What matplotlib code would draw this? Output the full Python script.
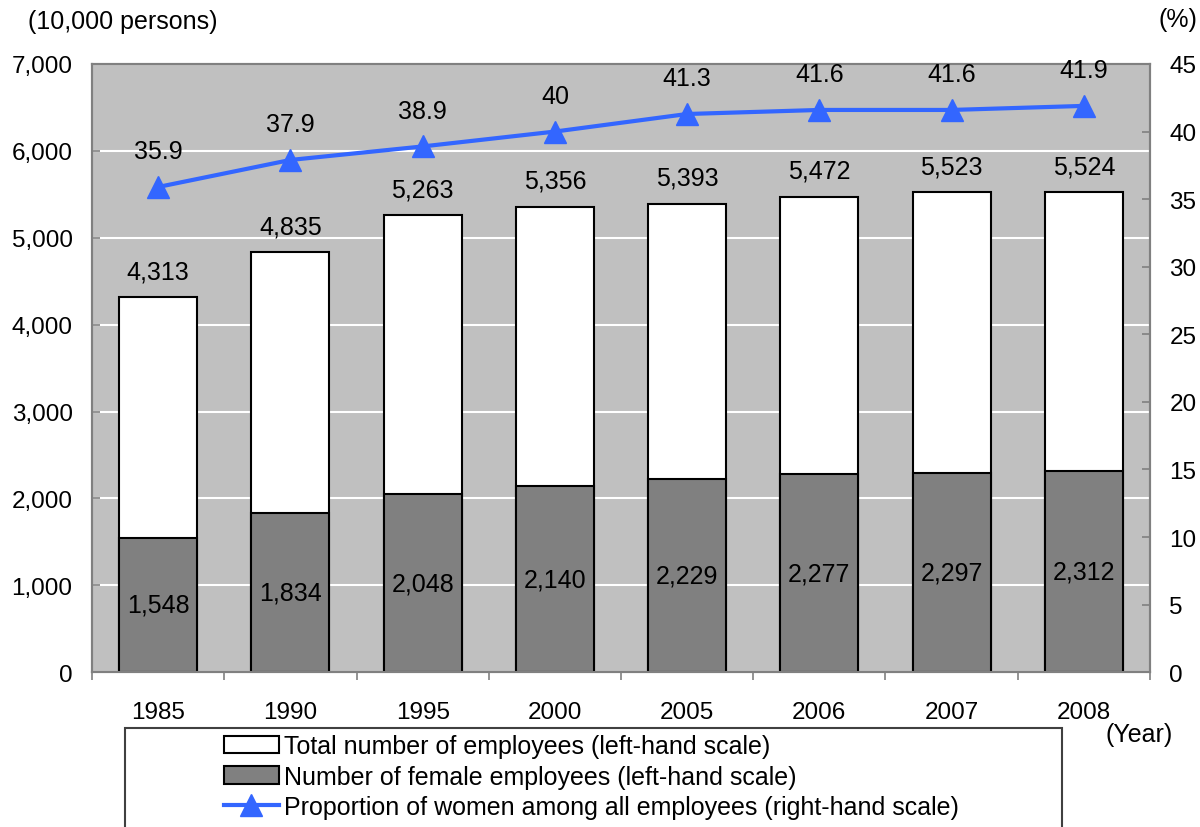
import matplotlib.pyplot as plt
from matplotlib.patches import Rectangle
import numpy as np

plt.rcParams['font.family'] = ['Liberation Sans', 'DejaVu Sans']

anos = ['1985', '1990', '1995', '2000', '2005', '2006', '2007', '2008']
total = [4313, 4835, 5263, 5356, 5393, 5472, 5523, 5524]
mulheres = [1548, 1834, 2048, 2140, 2229, 2277, 2297, 2312]
proporcao = [35.9, 37.9, 38.9, 40, 41.3, 41.6, 41.6, 41.9]

tam_font = 18
tam_tick = 17.5
cor_fundo = '#c0c0c0'
cor_linha = '#3366ff'
cor_eixo = '#808080'

fig = plt.figure(figsize=(12, 8.28), dpi=100)
ax = fig.add_axes([0.0767, 0.187, 0.8816, 0.7345])
ax.set_facecolor(cor_fundo)

x = np.arange(len(anos))
larg = 0.59

# grade horizontal branca
ax.set_ylim(0, 7000)
ax.set_yticks(range(0, 7001, 1000))
ax.yaxis.grid(True, color='white', linewidth=1.5)
ax.set_axisbelow(True)

b_total = ax.bar(x, total, width=larg, color='white', edgecolor='black', linewidth=1.5,
                 label='Total number of employees (left-hand scale)', zorder=2)
b_mulh = ax.bar(x, mulheres, width=larg, color='#808080', edgecolor='black', linewidth=1.5,
                label='Number of female employees (left-hand scale)', zorder=3)

for xi, v in zip(x, total):
    ax.annotate(f'{v:,}', (xi, v), xytext=(0, 10), textcoords='offset points',
                ha='center', va='bottom', fontsize=tam_font)
for xi, v in zip(x, mulheres):
    ax.text(xi, v / 2, f'{v:,}', ha='center', va='center', fontsize=tam_font, zorder=4)

ax.set_xlim(-0.5, len(anos) - 0.5)
ax.set_xticks(x)
ax.set_xticklabels(anos)
ax.set_xticks(np.arange(-0.5, len(anos), 1), minor=True)
ax.tick_params(axis='x', which='major', length=0, pad=21, labelsize=tam_tick)
ax.tick_params(axis='x', which='minor', length=6, width=1.2, color=cor_eixo, direction='out')
ax.yaxis.set_major_formatter(plt.FuncFormatter(lambda v, p: f'{int(v):,}'))
ax.tick_params(axis='y', direction='in', length=6, width=1.2, color=cor_eixo,
               pad=14, labelsize=tam_tick)
for s in ax.spines.values():
    s.set_color(cor_eixo)
    s.set_linewidth(1.5)

# eixo da direita: proporção (%)
ax2 = ax.twinx()
ax2.set_ylim(0, 45)
ax2.set_yticks(range(0, 46, 5))
ax2.tick_params(axis='y', direction='in', length=6, width=1.2, color=cor_eixo,
                pad=14, labelsize=tam_tick)
for s in ax2.spines.values():
    s.set_color(cor_eixo)
    s.set_linewidth(1.5)
l_prop, = ax2.plot(x, proporcao, color=cor_linha, linewidth=3, marker='^', markersize=16,
                   label='Proportion of women among all employees (right-hand scale)', zorder=5)
for xi, v in zip(x, proporcao):
    ax2.annotate(f'{v:g}', (xi, v), xytext=(0, 17), textcoords='offset points',
                 ha='center', va='bottom', fontsize=tam_font)

fig.text(0.023, 0.973, '(10,000 persons)', fontsize=tam_font, ha='left', va='center')
fig.text(0.9975, 0.976, '(%)', fontsize=tam_font, ha='right', va='center')
fig.text(0.9775, 0.112, '(Year)', fontsize=tam_font, ha='right', va='center')

# caixa da legenda (cortada pela borda inferior)
fig.patches.append(Rectangle((0.1042, -0.05), 0.7808, 0.1696, transform=fig.transFigure,
                             facecolor='white', edgecolor='#404040', linewidth=1.5))
leg = fig.legend(handles=[b_total, b_mulh, l_prop], loc='upper center',
                 bbox_to_anchor=(0.4925, 0.112), frameon=False, fontsize=tam_font,
                 handlelength=2.2, handletextpad=0.2, labelspacing=0.25,
                 borderaxespad=0, borderpad=0)
leg._legend_box.align = 'left'

fig.savefig('out.png', dpi=100)
